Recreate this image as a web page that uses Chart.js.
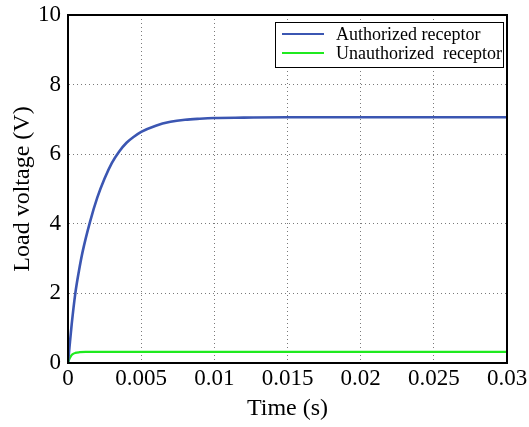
<!DOCTYPE html>
<html>
<head>
<meta charset="utf-8">
<script src="https://cdn.jsdelivr.net/npm/chart.js@4/dist/chart.umd.min.js"></script>
<style>
html,body{margin:0;padding:0;background:#fff;}
#wrap{width:529px;height:427px;position:relative;}
</style>
</head>
<body>
<div id="wrap"><canvas id="c" width="529" height="427"></canvas></div>
<script>
const seriesLabels = ['Authorized receptor', 'Unauthorized  receptor'];
const timeAuth = [0, 0.0001, 0.00025, 0.0005, 0.00075, 0.001, 0.0015, 0.002, 0.0025, 0.003, 0.0035, 0.004, 0.0045, 0.005, 0.006, 0.007, 0.008, 0.009, 0.01, 0.012, 0.015, 0.02, 0.025, 0.03];
const voltAuth = [0, 0.45, 1.1, 2.0, 2.65, 3.2, 4.05, 4.75, 5.3, 5.75, 6.08, 6.33, 6.5, 6.64, 6.82, 6.93, 6.99, 7.02, 7.04, 7.05, 7.06, 7.06, 7.06, 7.06];
const timeUnauth = [0, 0.0001, 0.0002, 0.0003, 0.0005, 0.0008, 0.0012, 0.005, 0.01, 0.015, 0.02, 0.025, 0.03];
const voltUnauth = [0, 0.12, 0.2, 0.25, 0.29, 0.31, 0.32, 0.32, 0.32, 0.32, 0.32, 0.32, 0.32];
const xTickLabels = ['0', '0.005', '0.01', '0.015', '0.02', '0.025', '0.03'];
const yTickLabels = ['0', '2', '4', '6', '8', '10'];
const colors = ['#3B56B2', '#1FEA1F'];

const serif = "'Liberation Serif', 'DejaVu Serif', serif";

const framePlugin = {
  id: 'frame',
  afterDraw(chart) {
    const {ctx, chartArea: a} = chart;
    ctx.save();
    ctx.setLineDash([]);
    ctx.strokeStyle = '#000';
    ctx.lineWidth = 2;
    ctx.strokeRect(a.left, a.top, a.right - a.left, a.bottom - a.top);
    // legend box
    const bx = 275, by = 22, bw = 228, bh = 45;
    ctx.fillStyle = '#fff';
    ctx.fillRect(bx, by, bw, bh);
    ctx.lineWidth = 1;
    ctx.strokeStyle = '#000';
    ctx.strokeRect(bx + 0.5, by + 0.5, bw, bh);
    const rows = [34, 53];
    chart.data.datasets.forEach((ds, i) => {
      ctx.strokeStyle = ds.borderColor;
      ctx.lineWidth = 2.2;
      ctx.beginPath();
      ctx.moveTo(282, rows[i]);
      ctx.lineTo(324, rows[i]);
      ctx.stroke();
      ctx.fillStyle = '#000';
      ctx.font = "18px " + serif;
      ctx.textBaseline = 'middle';
      ctx.textAlign = 'left';
      ctx.fillText(ds.label, 336, rows[i] + 1);
    });
    ctx.restore();
  }
};

new Chart(document.getElementById('c'), {
  type: 'line',
  data: {
    datasets: [
      {
        label: seriesLabels[0],
        data: timeAuth.map((t, i) => ({x: t, y: voltAuth[i]})),
        borderColor: colors[0],
        borderWidth: 2.6,
        pointRadius: 0,
        cubicInterpolationMode: 'monotone',
        fill: false
      },
      {
        label: seriesLabels[1],
        data: timeUnauth.map((t, i) => ({x: t, y: voltUnauth[i]})),
        borderColor: colors[1],
        borderWidth: 2.2,
        pointRadius: 0,
        cubicInterpolationMode: 'monotone',
        fill: false
      }
    ]
  },
  options: {
    responsive: false,
    animation: false,
    layout: {padding: {top: 15, right: 22, left: 0, bottom: 0}},
    plugins: {legend: {display: false}, tooltip: {enabled: false}},
    scales: {
      x: {
        type: 'linear',
        min: 0, max: 0.03,
        afterBuildTicks(scale) {
          scale.ticks = xTickLabels.map(v => ({value: parseFloat(v)}));
        },
        afterFit(scale) { scale.height = 64; scale.paddingLeft = 0; scale.paddingRight = 0; },
        ticks: {
          callback: (v, i) => xTickLabels[i],
          color: '#000',
          font: {family: serif, size: 23},
          padding: 2,
          maxRotation: 0,
          autoSkip: false
        },
        grid: {color: '#7a7a7a', lineWidth: 1, drawTicks: false},
        border: {display: true, color: '#000', width: 2, dash: [1, 3]},
        title: {display: true, text: 'Time (s)', color: '#000', font: {family: serif, size: 24}, padding: {top: 0, bottom: 4}}
      },
      y: {
        min: 0, max: 10,
        afterBuildTicks(scale) {
          scale.ticks = yTickLabels.map(v => ({value: parseFloat(v)}));
        },
        afterFit(scale) { scale.width = 68; scale.paddingTop = 0; scale.paddingBottom = 0; },
        ticks: {
          callback: (v, i) => yTickLabels[i],
          color: '#000',
          font: {family: serif, size: 23},
          padding: 7
        },
        grid: {color: '#7a7a7a', lineWidth: 1, drawTicks: false},
        border: {display: true, color: '#000', width: 2, dash: [1, 3]},
        title: {display: true, text: 'Load voltage (V)', color: '#000', font: {family: serif, size: 24}, padding: {top: 8, bottom: 0}}
      }
    }
  },
  plugins: [framePlugin]
});
</script>
</body>
</html>
